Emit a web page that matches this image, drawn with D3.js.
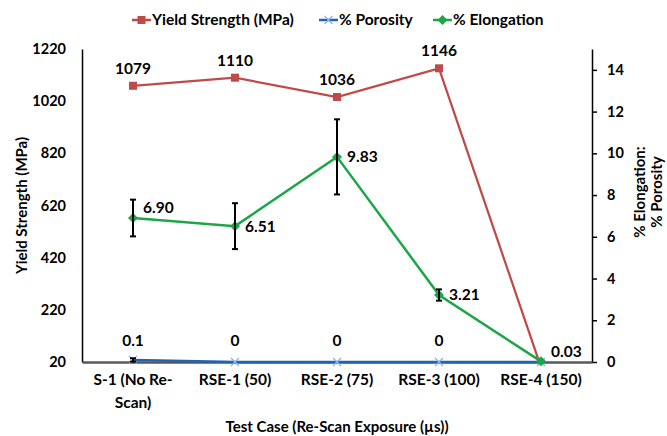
<!DOCTYPE html>
<html>
<head>
<meta charset="utf-8">
<script src="https://cdn.jsdelivr.net/npm/d3@7"></script>
<style>
  body { margin: 0; background: #fff; }
  text { font-family: Lato, "Open Sans", sans-serif; font-weight: bold; fill: #000; }
</style>
</head>
<body>
<svg id="chart" width="667" height="436"></svg>
<script>
var categories = ["S-1 (No Re-\nScan)", "RSE-1 (50)", "RSE-2 (75)", "RSE-3 (100)", "RSE-4 (150)"]
var yieldStrength = [1079, 1110, 1036, 1146, 0]
var porosity = [0.1, 0, 0, 0, 0]
var porosityErr = [0.08, 0, 0, 0, 0]
var elongation = [6.90, 6.51, 9.83, 3.21, 0.03]
var elongationErr = [0.88, 1.1, 1.8, 0.27, 0]
var leftTicks = [20, 220, 420, 620, 820, 1020, 1220]
var rightTicks = [0, 2, 4, 6, 8, 10, 12, 14]

var red = "#be4b48", blue = "#2163b0", lightBlue = "#8db3e2", green = "#1ca648"

var margin = {top: 49, right: 75, bottom: 74, left: 82}
var W = 667, H = 436
var pw = W - margin.left - margin.right
var ph = H - margin.top - margin.bottom

var svg = d3.select("#chart")

svg.append("defs").append("clipPath").attr("id", "plotclip")
  .append("rect").attr("x", margin.left).attr("y", margin.top - 10)
  .attr("width", pw).attr("height", ph + 10)

var x = d3.scaleBand().domain(categories).range([margin.left, margin.left + pw])
var cx = function(i){ return x(categories[i]) + x.bandwidth()/2 }
var yL = d3.scaleLinear().domain([20, 1220]).range([margin.top + ph, margin.top])
var yR = d3.scaleLinear().domain([0, 15]).range([margin.top + ph, margin.top])

// left axis
var leftAxis = svg.append("g")
  .attr("transform", "translate(" + margin.left + ",0)")
  .call(d3.axisLeft(yL).tickValues(leftTicks).tickFormat(d3.format("d")).tickSize(0).tickPadding(16))
leftAxis.select(".domain").attr("stroke", "#000").attr("stroke-width", 1.5)
leftAxis.selectAll("text").style("font-size", "14.5px")

// right axis
var rightAxis = svg.append("g")
  .attr("transform", "translate(" + (margin.left + pw) + ",0)")
  .call(d3.axisRight(yR).tickValues(rightTicks).tickSize(5).tickSizeOuter(0).tickPadding(10))
rightAxis.select(".domain").attr("stroke", "#000").attr("stroke-width", 1.5)
rightAxis.selectAll(".tick line").attr("stroke", "#000").attr("stroke-width", 1.5)
rightAxis.selectAll("text").style("font-size", "14.5px")

// bottom axis
var bottomAxis = svg.append("g")
  .attr("transform", "translate(0," + (margin.top + ph) + ")")
  .call(d3.axisBottom(x).tickSize(0).tickSizeOuter(0).tickPadding(14))
bottomAxis.select(".domain").attr("stroke", "#595959").attr("stroke-width", 2.5)
bottomAxis.selectAll(".tick text").each(function(d){
  var lines = d.split("\n")
  var t = d3.select(this).text(null).style("font-size", "15.5px")
  lines.forEach(function(l, k){
    t.append("tspan").attr("x", 0).attr("dy", k == 0 ? "0.6em" : "1.45em").text(l)
  })
})

// axis titles
svg.append("text")
  .attr("transform", "translate(22," + (margin.top + ph/2) + ") rotate(-90)")
  .attr("text-anchor", "middle").attr("dy", "0.35em")
  .style("font-size", "15px").text("Yield Strength (MPa)")

var rt = svg.append("text")
  .attr("transform", "translate(648,192) rotate(-90)")
  .attr("text-anchor", "middle").style("font-size", "15px")
rt.append("tspan").attr("x", 0).attr("dy", "-0.2em").text("% Elongation:")
rt.append("tspan").attr("x", 0).attr("dy", "1.1em").text("% Porosity")

svg.append("text")
  .attr("x", margin.left + pw/2).attr("y", 432)
  .attr("text-anchor", "middle").style("font-size", "15px")
  .text("Test Case (Re-Scan Exposure (µs))")

var idx = d3.range(categories.length)

// yield strength
var plot = svg.append("g").attr("clip-path", "url(#plotclip)")
plot.append("path")
  .attr("d", d3.line().x(function(i){ return cx(i) }).y(function(i){ return yL(yieldStrength[i]) })(idx))
  .attr("fill", "none").attr("stroke", red).attr("stroke-width", 2.25)

var ysIdx = idx.filter(function(i){ return yieldStrength[i] >= 20 })
svg.selectAll(".ysm").data(ysIdx).enter().append("rect")
  .attr("x", function(i){ return cx(i) - 4 }).attr("y", function(i){ return yL(yieldStrength[i]) - 4 })
  .attr("width", 8).attr("height", 8).attr("fill", red)
svg.selectAll(".ysl").data(ysIdx).enter().append("text")
  .attr("x", function(i){ return cx(i) }).attr("y", function(i){ return yL(yieldStrength[i]) - 12 })
  .attr("text-anchor", "middle").style("font-size", "15.5px")
  .text(function(i){ return yieldStrength[i] })

// porosity
svg.append("path")
  .attr("d", d3.line().x(function(i){ return cx(i) }).y(function(i){ return yR(porosity[i]) })(idx))
  .attr("fill", "none").attr("stroke", blue).attr("stroke-width", 2.5)
svg.selectAll(".pm").data(idx).enter().append("path")
  .attr("d", "M-4,-4L4,4M-4,4L4,-4")
  .attr("transform", function(i){ return "translate(" + cx(i) + "," + yR(porosity[i]) + ")" })
  .attr("stroke", lightBlue).attr("stroke-width", 1.3).attr("fill", "none")
svg.selectAll(".pl").data(idx.slice(0, 4)).enter().append("text")
  .attr("x", function(i){ return cx(i) }).attr("y", function(i){ return yR(porosity[i]) - 14 - (porosity[i] > 0 ? 0 : 2) })
  .attr("text-anchor", "middle").style("font-size", "15.5px")
  .text(function(i){ return porosity[i] })

// elongation
svg.append("path")
  .attr("d", d3.line().x(function(i){ return cx(i) }).y(function(i){ return yR(elongation[i]) })(idx))
  .attr("fill", "none").attr("stroke", green).attr("stroke-width", 2.5)
svg.selectAll(".em").data(idx).enter().append("path")
  .attr("d", "M0,-5L5,0L0,5L-5,0Z")
  .attr("transform", function(i){ return "translate(" + cx(i) + "," + yR(elongation[i]) + ")" })
  .attr("fill", green)

// error bars
function errorBars(vals, errs){
  var g = svg.append("g").attr("stroke", "#000").attr("stroke-width", 2)
  idx.filter(function(i){ return errs[i] > 0 }).forEach(function(i){
    var top = yR(vals[i] + errs[i]), bot = yR(Math.max(0, vals[i] - errs[i]))
    g.append("line").attr("x1", cx(i)).attr("x2", cx(i)).attr("y1", top).attr("y2", bot)
    g.append("line").attr("x1", cx(i) - 3).attr("x2", cx(i) + 3).attr("y1", top).attr("y2", top)
    g.append("line").attr("x1", cx(i) - 3).attr("x2", cx(i) + 3).attr("y1", bot).attr("y2", bot)
  })
}
errorBars(elongation, elongationErr)
errorBars(porosity, porosityErr)

svg.selectAll(".el").data(idx).enter().append("text")
  .attr("x", function(i){ return cx(i) + 10 })
  .attr("y", function(i){ return yR(elongation[i]) + (i == 0 || i == 4 ? -10 : 0) })
  .attr("dy", "0.35em").style("font-size", "15.5px")
  .text(function(i){ return elongation[i].toFixed(2) })

// legend
var legendItems = [
  {name: "Yield Strength (MPa)", color: red, x: 132, marker: "square"},
  {name: "% Porosity", color: blue, x: 319, marker: "x"},
  {name: "% Elongation", color: green, x: 433, marker: "diamond"}
]
var lg = svg.append("g").attr("transform", "translate(0,20)")
legendItems.forEach(function(d){
  var g = lg.append("g").attr("transform", "translate(" + d.x + ",0)")
  g.append("line").attr("x1", 0).attr("x2", 19).attr("stroke", d.color).attr("stroke-width", 2.5)
  if (d.marker == "square") g.append("rect").attr("x", 5.5).attr("y", -4).attr("width", 8).attr("height", 8).attr("fill", d.color)
  if (d.marker == "x") g.append("path").attr("d", "M5.5,-4L13.5,4M5.5,4L13.5,-4").attr("stroke", lightBlue).attr("stroke-width", 1.3)
  if (d.marker == "diamond") g.append("path").attr("d", "M9.5,-5L14.5,0L9.5,5L4.5,0Z").attr("fill", d.color)
  g.append("text").attr("x", 20).attr("dy", "0.35em").style("font-size", "15.5px").text(d.name)
})
</script>
</body>
</html>
